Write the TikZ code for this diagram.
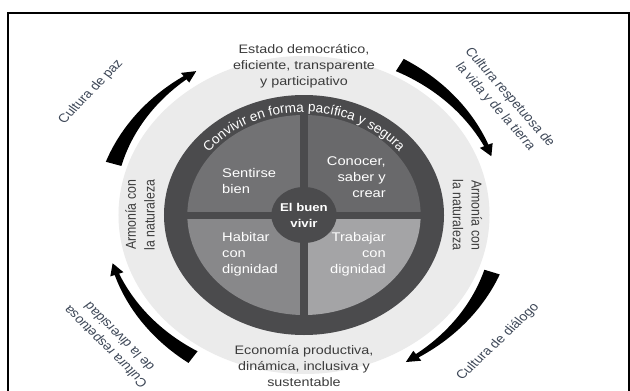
\documentclass[tikz,border=0pt]{standalone}
\usepackage{fontspec}
\setmainfont{Liberation Sans}
\usetikzlibrary{decorations.text}
\definecolor{lightdisk}{HTML}{EBEBEB}
\definecolor{ringdark}{HTML}{4B4B4D}
\definecolor{qa}{HTML}{727274}
\definecolor{qb}{HTML}{69696B}
\definecolor{qc}{HTML}{88888A}
\definecolor{qd}{HTML}{A4A4A6}
\definecolor{txtdark}{HTML}{3C3C3C}
\definecolor{lbl}{HTML}{3E4858}
\tikzset{
  maintext/.style={text=txtdark, font=\fontsize{12.3}{16}\selectfont, align=center, inner sep=0pt},
  lbltext/.style={text=lbl, font=\fontsize{12.2}{15.5}\selectfont, align=center, inner sep=0pt},
  quadtext/.style={text=white, font=\fontsize{12.6}{16}\selectfont, inner sep=0pt},
  arrowfill/.style={fill=black},
}
\newcommand{\taperarrow}[2]{%
  \pgfmathsetmacro{\tA}{#1}%
  \pgfmathsetmacro{\tB}{#2-3.9}%
  \fill[arrowfill] plot[domain=\tA:\tB, samples=40, variable=\t] (\t:{171+(14+(4-14)*(\t-\tA)/(\tB-\tA))/2})
    -- (\tB:177) -- (#2:171) -- (\tB:165)
    -- plot[domain=\tB:\tA, samples=40, variable=\t] (\t:{171-(14+(4-14)*(\t-\tA)/(\tB-\tA))/2}) -- cycle;
}
\begin{document}
\begin{tikzpicture}[x=1pt,y=-1pt]
\useasboundingbox (0,0) rectangle (630,391);
\clip (0,0) rectangle (630,391);
\fill[white] (0,0) rectangle (630,391);
\draw[line width=2pt] (7.5,12.5) rectangle (629,500);
\begin{scope}[shift={(304,215)}, xscale=1.1667, every node/.append style={transform shape}]
  % disks
  \fill[lightdisk] (0,0) circle[radius=159];
  \fill[ringdark] (0,0) circle[radius=120];
  \fill[qa] (0,0) -- (180:100) arc[start angle=180, end angle=270, radius=100] -- cycle;
  \fill[qb] (0,0) -- (270:100) arc[start angle=270, end angle=360, radius=100] -- cycle;
  \fill[qd] (0,0) -- (0:100) arc[start angle=0, end angle=90, radius=100] -- cycle;
  \fill[qc] (0,0) -- (90:100) arc[start angle=90, end angle=180, radius=100] -- cycle;
  \fill[ringdark] (-3.5,-101) rectangle (3.5,101);
  \fill[ringdark] (-101,-3.5) rectangle (101,3.5);
  \node[circle, fill=ringdark, minimum size=56pt, inner sep=0pt, text=white, align=center,
        font=\fontsize{11.3}{16}\selectfont\bfseries] (buenvivir) at (0,0) {El buen\\vivir};
  % ring text
  \path[decorate, decoration={text along path, text align=center, text color=white,
     text={|\fontsize{13.6}{15}\selectfont|Convivir en forma pacífica y segura}}]
     (-160:103) arc[start angle=-160, end angle=-20, radius=103];
  % quadrant texts
  \node[quadtext, align=left, anchor=west] (sentirse) at (-70.3,-34) {Sentirse\\bien};
  \node[quadtext, align=right, anchor=east] (conocer) at (70.3,-38) {Conocer,\\saber y\\crear};
  \node[quadtext, align=left, anchor=west] (habitar) at (-70.3,39) {Habitar\\con\\dignidad};
  \node[quadtext, align=right, anchor=east] (trabajar) at (70.3,39) {Trabajar\\con\\dignidad};
  % outer texts
  \node[maintext] (estado) at (0,-149) {Estado democrático,\\eficiente, transparente\\y participativo};
  \node[maintext] (economia) at (0,151) {Economía productiva,\\dinámica, inclusiva y\\sustentable};
  \node[maintext, rotate=90] (armL) at (-140.6,0) {Armonía con\\la naturaleza};
  \node[maintext, rotate=-90] (armR) at (140.1,0) {Armonía con\\la naturaleza};
  % arrows
  \taperarrow{-162.6}{-122.7}
  \taperarrow{-61.3}{-20.1}
  \taperarrow{19.5}{59.3}
  \taperarrow{123.8}{163.6}
  % labels
  \node[lbltext, rotate=50.4] (paz) at (-182.6,-123) {Cultura de paz};
  \node[lbltext, rotate=-53.1] (vida) at (170,-113) {Cultura respetuosa de\\la vida y de la tierra};
  \node[lbltext, rotate=47.9] (dialogo) at (166.3,127) {Cultura de diálogo};
  \node[lbltext, rotate=130.6] (diversidad) at (-164.6,127) {Cultura respetuosa\\de la diversidad};
\end{scope}
\end{tikzpicture}
\end{document}
